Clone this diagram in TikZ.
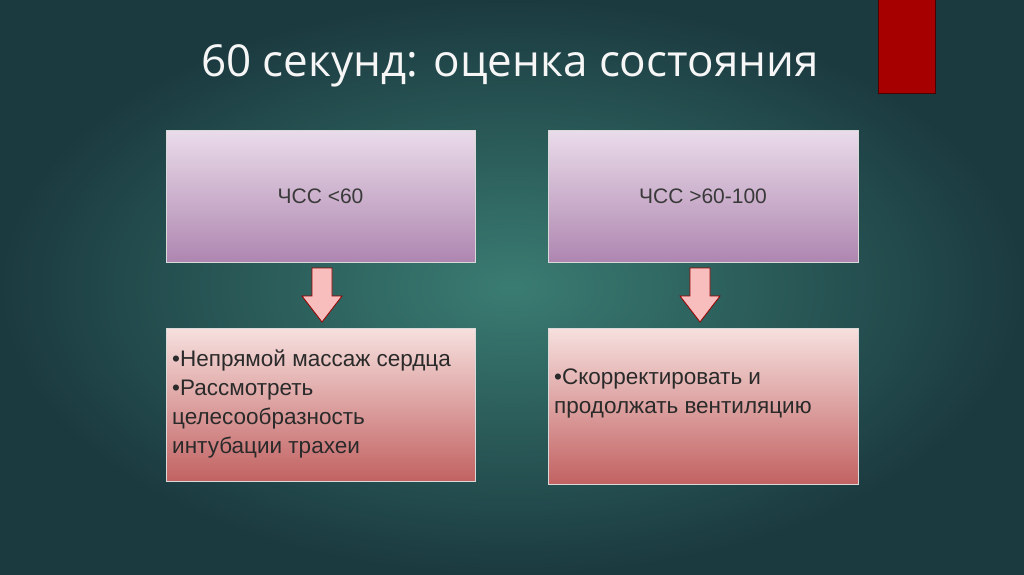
\documentclass[tikz,border=0pt]{standalone}
\usepackage{fontspec}
\setmainfont{Open Sans}
\newfontfamily\boxfont{Liberation Sans}
\definecolor{bgc}{HTML}{3A7C72}
\definecolor{bge}{HTML}{1B3A40}
\definecolor{toptop}{HTML}{EADCEA}
\definecolor{topbot}{HTML}{AE86B0}
\definecolor{bottop}{HTML}{F6E0DE}
\definecolor{botbot}{HTML}{C26262}
\definecolor{txt}{HTML}{3A3A3A}
\definecolor{bodytxt}{HTML}{2A2A2A}
\tikzset{
 topbox/.style={draw=white!70!gray, line width=0.8pt, top color=toptop, bottom color=topbot, text=txt, font=\boxfont\fontsize{21}{24}\selectfont},
 botbox/.style={draw=white!70!gray, line width=0.8pt, top color=bottop, bottom color=botbot},
 bodytext/.style={text=bodytxt, font=\boxfont\fontsize{22.5}{29}\selectfont, align=left, inner sep=0pt},
 darrow/.style={draw=red!60!black, fill=bottop!85!red, line width=0.8pt, line join=miter}
}
\begin{document}
\begin{tikzpicture}[x=1pt,y=-1pt]
\useasboundingbox (0,0) rectangle (1024,574);
\fill[inner color=bgc, outer color=bge] (0,0) rectangle (1024,574);
\filldraw[fill=red!65!black, draw=black!70!red, line width=0.8pt] (878,-1) rectangle (935,93);
\node[text=white!93!gray, font=\fontsize{44}{48}\selectfont] (title) at (510,66) {60 секунд: оценка состояния};
\node[topbox, minimum width=309pt, minimum height=132pt] (t1) at (320.5,196) {ЧСС <60};
\node[topbox, minimum width=310pt, minimum height=132pt] (t2) at (703,196) {ЧСС >60-100};
\foreach \x/\n in {322/a1,700/a2}{
 \draw[darrow] (\x-10,268) -- (\x+10,268) -- (\x+10,296) -- (\x+20,296) -- (\x,322) -- (\x-20,296) -- (\x-10,296) -- cycle;
 \coordinate (\n) at (\x,295);
}
\node[botbox, minimum width=309pt, minimum height=153pt] (b1) at (320.5,404.5) {};
\node[bodytext, anchor=north west] (l1) at (172,350) {•Непрямой массаж сердца\\•Рассмотреть\\целесообразность\\интубации трахеи};
\node[botbox, minimum width=310pt, minimum height=156pt] (b2) at (703,406) {};
\node[bodytext, anchor=north west] (l2) at (554,369) {•Скорректировать и\\продолжать вентиляцию};
\end{tikzpicture}
\end{document}
